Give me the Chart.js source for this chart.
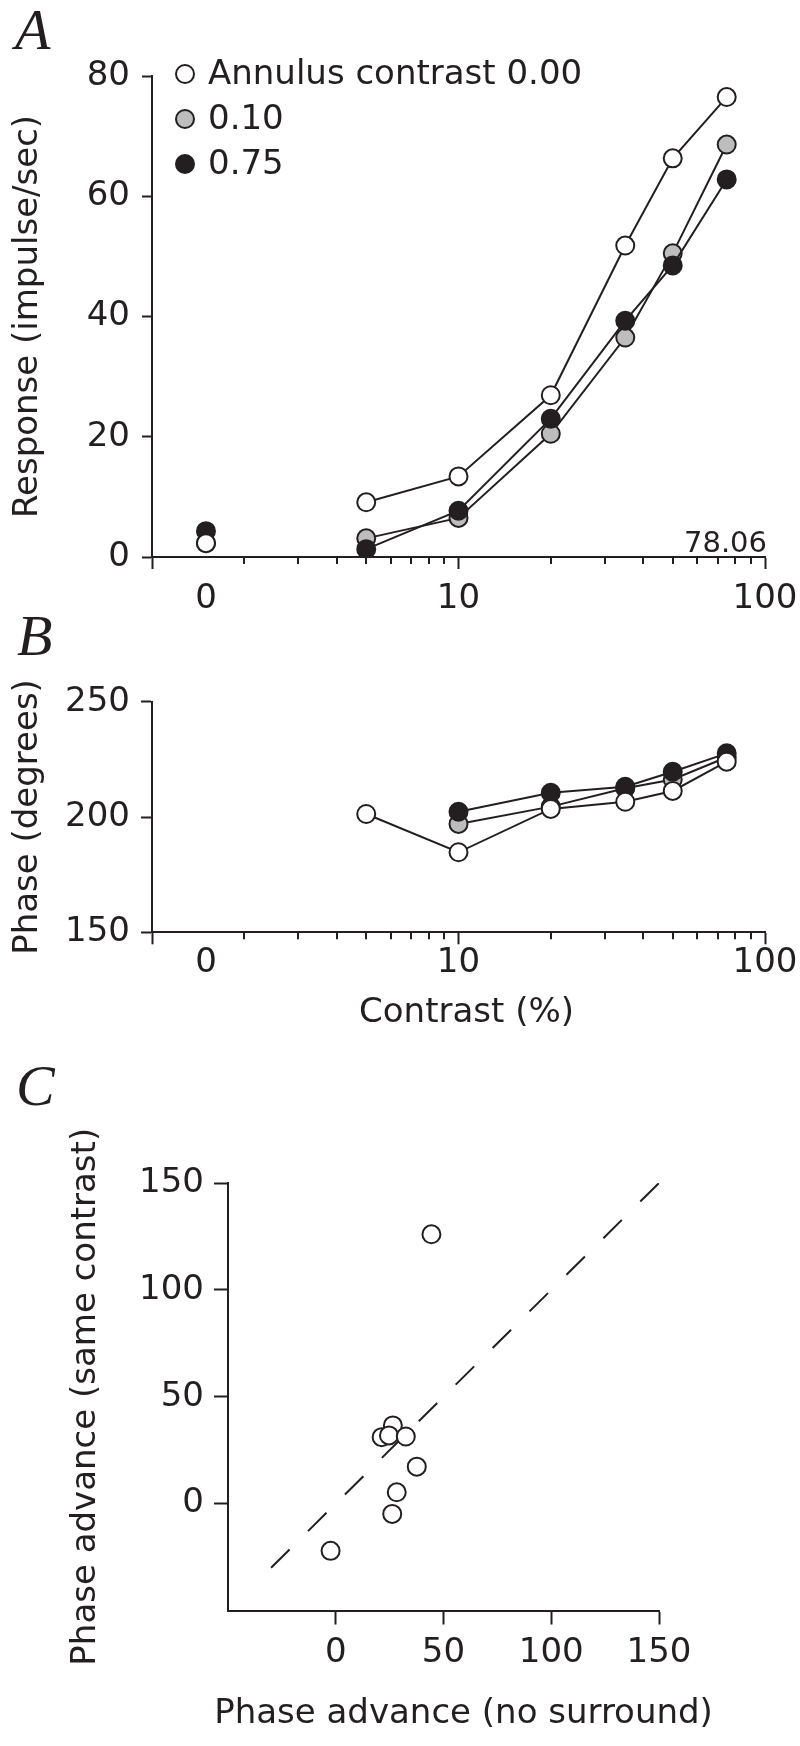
<!DOCTYPE html>
<html>
<head>
<meta charset="utf-8">
<script src="https://cdn.jsdelivr.net/npm/chart.js@4.4.1/dist/chart.umd.min.js"></script>
<style>
  html, body { margin: 0; padding: 0; background: #fff; }
  body { width: 800px; height: 1746px; position: relative; overflow: hidden; }
  canvas { position: absolute; left: 0; }
  .panel {
    position: absolute; z-index: 2;
    font-family: 'Liberation Serif', 'Times New Roman', serif;
    font-style: italic; font-size: 58px; line-height: 1; color: #231f20;
  }
</style>
</head>
<body>
<canvas id="chart-a" width="800" height="640" style="top:0"></canvas>
<canvas id="chart-b" width="800" height="420" style="top:640px"></canvas>
<canvas id="chart-c" width="800" height="686" style="top:1060px"></canvas>
<div class="panel" style="left:15px; top:1px">A</div>
<div class="panel" style="left:17px; top:607px">B</div>
<div class="panel" style="left:16px; top:1057px">C</div>

<script>
const INK = '#231f20';
const FONT = 'DejaVu Sans';

// contrast axis (log), the 0% condition is plotted left of the first decade
const contrasts = [5, 10, 20, 35, 50, 75];
const zeroContrastX = 1.5;
const contrastTickValues = [1, zeroContrastX, 10, 100];
const contrastTickLabels = ['', '0', '10', '100'];
const contrastMinorTicks = [2, 3, 4, 5, 6, 7, 8, 9, 20, 30, 40, 50, 60, 70, 80, 90];

const annulusLabels = ['Annulus contrast 0.00', '0.10', '0.75'];
const annulusFills = ['#ffffff', '#bdbdbd', '#231f20'];

// A: response (impulse/sec)
const responseAnn000 = [9.1, 13.4, 26.9, 51.8, 66.3, 76.5];
const responseAnn010 = [3.1, 6.5, 20.5, 36.5, 50.5, 68.6];
const responseAnn075 = [1.3, 7.7, 23.0, 39.3, 48.5, 62.8];
const responseAtZero = [2.3, 2.3, 4.3];   // annulus 0.00, 0.10, 0.75
const cellLabel = '78.06';

// B: phase (degrees)
const phaseAnn000 = [201.3, 184.7, 203.5, 206.6, 211.3, 224.0];
const phaseAnn010 = [null, 197.0, 204.5, 212.5, 216.3, 225.9];
const phaseAnn075 = [null, 202.3, 210.5, 213.1, 219.6, 227.6];

// C: phase advance, one point per cell
const advanceNoSurround   = [44.4, 26.5, 21.3, 24.7, 32.5, 37.6, 28.3, 26.2, -2.4];
const advanceSameContrast = [126.0, 36.6, 31.1, 31.9, 31.4, 17.3, 5.3, -4.8, -22.1];
const unityLine = [-30, 150];

Chart.defaults.font.family = FONT;
Chart.defaults.color = INK;

function pts(xs, ys) {
    return xs.map((x, i) => ({ x: x, y: ys[i] })).filter(p => p.y != null);
}

function marker(fill) {
    return {
        pointRadius: 9,
        pointHoverRadius: 9,
        pointBorderWidth: 2,
        pointBackgroundColor: fill,
        pointBorderColor: INK,
        borderColor: INK,
        borderWidth: 2
    };
}

// keep the plot box where it is, labels may hang over the edges
function fixHeight(h) {
    return s => { s.height = h; s.paddingLeft = 0; s.paddingRight = 0; };
}
function fixWidth(w) {
    return s => { s.width = w; s.paddingTop = 0; s.paddingBottom = 0; };
}

// first dataset is drawn last, so white sits on top, then black, then gray
function contrastDatasets(series, zeroValues) {
    const order = [0, 2, 1];
    const out = [];
    order.forEach(k => {
        out.push(Object.assign({ data: pts(contrasts, series[k]), showLine: true }, marker(annulusFills[k])));
        if (zeroValues) {
            out.push(Object.assign({ data: [{ x: zeroContrastX, y: zeroValues[k] }], showLine: false }, marker(annulusFills[k])));
        }
    });
    return out;
}

function contrastAxis(height, padding) {
    return {
        type: 'logarithmic',
        min: 1,
        max: 100,
        afterBuildTicks: s => { s.ticks = contrastTickValues.map(v => ({ value: v })); },
        afterFit: fixHeight(height),
        ticks: {
            autoSkip: false,
            maxRotation: 0,
            padding: padding,
            font: { size: 34 },
            color: INK,
            callback: v => {
                const i = contrastTickValues.indexOf(v);
                return i >= 0 ? contrastTickLabels[i] : '';
            }
        },
        grid: {
            drawOnChartArea: false,
            tickLength: 12,
            tickWidth: 2,
            tickColor: ctx => (ctx.tick && ctx.tick.value === zeroContrastX) ? 'rgba(0,0,0,0)' : INK
        },
        border: { color: INK, width: 2 }
    };
}

function valueAxis(min, max, step, width, tickLen, pad, title, titlePad) {
    return {
        min: min,
        max: max,
        afterFit: fixWidth(width),
        ticks: { stepSize: step, padding: pad, font: { size: 34 }, color: INK },
        grid: { drawOnChartArea: false, tickLength: tickLen, tickWidth: 2, tickColor: INK },
        border: { color: INK, width: 2 },
        title: { display: true, text: title, font: { size: 34 }, color: INK, padding: { top: titlePad, bottom: 0 } }
    };
}

// short ticks between the decades of the log axis
const minorTicksPlugin = {
    id: 'minorTicks',
    afterDraw(chart, args, opts) {
        if (!opts.values) return;
        const s = chart.scales.x;
        const ctx = chart.ctx;
        ctx.save();
        ctx.strokeStyle = INK;
        ctx.lineWidth = 2;
        ctx.beginPath();
        opts.values.forEach(v => {
            const px = Math.round(s.getPixelForValue(v));
            ctx.moveTo(px, s.top);
            ctx.lineTo(px, s.top + opts.length);
        });
        ctx.stroke();
        ctx.restore();
    }
};

const legendPlugin = {
    id: 'annulusLegend',
    afterDatasetsDraw(chart, args, opts) {
        if (!opts.show) return;
        const { ctx, chartArea } = chart;
        ctx.save();
        ctx.font = '34px ' + FONT;
        ctx.textBaseline = 'middle';
        annulusLabels.forEach((label, i) => {
            const y = chartArea.top - 2 + i * 45;
            const x = chartArea.left + 33;
            ctx.beginPath();
            ctx.arc(x, y, 9, 0, Math.PI * 2);
            ctx.fillStyle = annulusFills[i];
            ctx.fill();
            ctx.lineWidth = 2;
            ctx.strokeStyle = INK;
            ctx.stroke();
            ctx.fillStyle = INK;
            ctx.fillText(label, x + 23, y + 1);
        });
        ctx.restore();
    }
};

// free text placed relative to the plot box (cell number, x titles)
const noteTextPlugin = {
    id: 'noteText',
    afterDraw(chart, args, opts) {
        if (!opts.items) return;
        const { ctx, chartArea } = chart;
        ctx.save();
        ctx.fillStyle = INK;
        opts.items.forEach(it => {
            ctx.font = it.size + 'px ' + FONT;
            ctx.textAlign = it.align;
            ctx.textBaseline = it.baseline;
            const p = it.at(chartArea);
            ctx.fillText(it.text, p.x, p.y);
        });
        ctx.restore();
    }
};

const basePlugins = {
    legend: { display: false },
    tooltip: { enabled: false }
};

// A: response vs contrast
new Chart(document.getElementById('chart-a'), {
    type: 'scatter',
    data: { datasets: contrastDatasets([responseAnn000, responseAnn010, responseAnn075], responseAtZero) },
    options: {
        responsive: false,
        animation: false,
        layout: { autoPadding: false, padding: { top: 76, right: 35, bottom: 0, left: 0 } },
        scales: {
            x: contrastAxis(83, 10),
            y: valueAxis(0, 80, 20, 152, 10, 12, 'Response (impulse/sec)', 8)
        },
        plugins: Object.assign({
            minorTicks: { values: contrastMinorTicks, length: 7 },
            annulusLegend: { show: true },
            noteText: { items: [{
                text: cellLabel, size: 29, align: 'right', baseline: 'alphabetic',
                at: a => ({ x: a.right + 2, y: a.bottom - 5 })
            }] }
        }, basePlugins)
    },
    plugins: [minorTicksPlugin, legendPlugin, noteTextPlugin]
});

// B: phase vs contrast
new Chart(document.getElementById('chart-b'), {
    type: 'scatter',
    data: { datasets: contrastDatasets([phaseAnn000, phaseAnn010, phaseAnn075]) },
    options: {
        responsive: false,
        animation: false,
        layout: { autoPadding: false, padding: { top: 61.7, right: 35, bottom: 0, left: 0 } },
        scales: {
            x: contrastAxis(127.7, -2),
            y: valueAxis(150, 250, 50, 152, 11, 11, 'Phase (degrees)', 8)
        },
        plugins: Object.assign({
            minorTicks: { values: contrastMinorTicks, length: 7 },
            noteText: { items: [{
                text: 'Contrast (%)', size: 34, align: 'center', baseline: 'middle',
                at: a => ({ x: a.left + 314.5, y: a.bottom + 80.5 })
            }] }
        }, basePlugins)
    },
    plugins: [minorTicksPlugin, noteTextPlugin]
});

// C: phase advance with and without surround
new Chart(document.getElementById('chart-c'), {
    type: 'scatter',
    data: {
        datasets: [
            Object.assign({ data: pts(advanceNoSurround, advanceSameContrast), showLine: false }, marker('#ffffff')),
            {
                data: unityLine.map(v => ({ x: v, y: v })),
                showLine: true,
                borderColor: INK,
                borderWidth: 2,
                borderDash: [26, 26],
                pointRadius: 0,
                pointHoverRadius: 0
            }
        ]
    },
    options: {
        responsive: false,
        animation: false,
        layout: { autoPadding: false, padding: { top: 123, right: 141, bottom: 0, left: 0 } },
        scales: {
            x: {
                min: -50,
                max: 150,
                afterBuildTicks: s => { s.ticks = s.ticks.filter(t => t.value >= 0); },
                afterFit: fixHeight(135.5),
                ticks: { stepSize: 50, padding: 8, font: { size: 34 }, color: INK, maxRotation: 0 },
                grid: { drawOnChartArea: false, tickLength: 14, tickWidth: 2, tickColor: INK },
                border: { color: INK, width: 2 }
            },
            y: Object.assign(valueAxis(-50, 150, 50, 228, 14, 10, 'Phase advance (same contrast)', 66), {
                afterBuildTicks: s => { s.ticks = s.ticks.filter(t => t.value >= 0); }
            })
        },
        plugins: Object.assign({
            noteText: { items: [{
                text: 'Phase advance (no surround)', size: 34, align: 'center', baseline: 'middle',
                at: a => ({ x: a.left + 235.5, y: a.bottom + 103.3 })
            }] }
        }, basePlugins)
    },
    plugins: [noteTextPlugin]
});
</script>
</body>
</html>
